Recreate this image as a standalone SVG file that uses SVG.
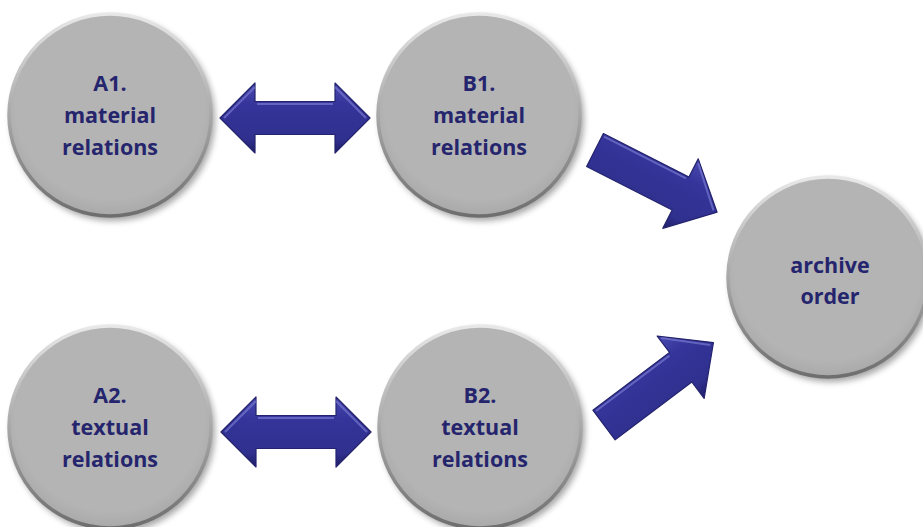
<svg xmlns="http://www.w3.org/2000/svg" width="923" height="527" viewBox="0 0 923 527">
<defs>
<filter id="sh" x="-20%" y="-20%" width="140%" height="140%"><feGaussianBlur stdDeviation="3"/></filter>
<linearGradient id="rim" x1="0" y1="0" x2="0" y2="1"><stop offset="0" stop-color="#e8e8e8"/><stop offset="0.5" stop-color="#a8a8a8"/><stop offset="1" stop-color="#6e6e6e"/></linearGradient>
<radialGradient id="face" cx="0.5" cy="0.45" r="0.55"><stop offset="0.85" stop-color="#b4b4b4"/><stop offset="1" stop-color="#a9a9a9"/></radialGradient>
<linearGradient id="arr" x1="0" y1="0" x2="0" y2="1"><stop offset="0" stop-color="#4a4ab0"/><stop offset="0.3" stop-color="#34349a"/><stop offset="0.8" stop-color="#30308f"/><stop offset="1" stop-color="#1e1e66"/></linearGradient>
<path id="dbl" d="M-75,0 L-40,-35 L-40,-16.5 L40,-16.5 L40,-35 L75,0 L40,35 L40,16.5 L-40,16.5 L-40,35 Z"/>
<path id="one" d="M0,-18.5 L96,-18.5 L96,-39 L137,0 L96,39 L96,18.5 L0,18.5 Z"/>
</defs>
<style>
.c{fill:url(#face);stroke:url(#rim);stroke-width:3.5}
.s{fill:#000;opacity:0.35;filter:url(#sh)}
.t{font-family:"Open Sans","Noto Sans",sans-serif;font-weight:bold;font-size:21.5px;fill:#25256e;text-anchor:middle}
.a{fill:url(#arr);stroke:#23236e;stroke-width:1.2;stroke-linejoin:round}
.h{fill:none;stroke:#7878d0;stroke-width:2;opacity:0.7}
</style>
<rect width="923" height="527" fill="#fff"/>
<g id="connectors">
<g transform="translate(295,118)"><use href="#dbl" class="a"/><path class="h" d="M-71,0 L-40,-31 M-38,-14 L38,-14 M40,-31 L71,0"/></g>
<g transform="translate(296,432)"><use href="#dbl" class="a"/><path class="h" d="M-71,0 L-40,-31 M-38,-14 L38,-14 M40,-31 L71,0"/></g>
<g transform="translate(595,150) rotate(27)"><use href="#one" class="a"/><path class="h" d="M2,-16 L94,-16 M98,-35 L133,0"/></g>
<g transform="translate(604,425) rotate(-37)"><use href="#one" class="a"/><path class="h" d="M2,-16 L94,-16 M98,-35 L133,0"/></g>
</g>
<g id="A1"><circle class="s" cx="113" cy="119" r="102"/><circle class="c" cx="110" cy="115" r="101"/>
<text class="t" x="110" y="91">A1.</text><text class="t" x="110" y="123">material</text><text class="t" x="110" y="155">relations</text></g>
<g id="B1"><circle class="s" cx="482" cy="119" r="102"/><circle class="c" cx="479" cy="115" r="101"/>
<text class="t" x="479" y="91">B1.</text><text class="t" x="479" y="123">material</text><text class="t" x="479" y="155">relations</text></g>
<g id="archive"><circle class="s" cx="831" cy="281" r="101"/><circle class="c" cx="828" cy="277" r="100"/>
<text class="t" x="830" y="273">archive</text><text class="t" x="830" y="304">order</text></g>
<g id="A2"><circle class="s" cx="113" cy="431" r="102"/><circle class="c" cx="110" cy="427" r="101"/>
<text class="t" x="110" y="403">A2.</text><text class="t" x="110" y="435">textual</text><text class="t" x="110" y="467">relations</text></g>
<g id="B2"><circle class="s" cx="483" cy="431" r="102"/><circle class="c" cx="480" cy="427" r="101"/>
<text class="t" x="480" y="403">B2.</text><text class="t" x="480" y="435">textual</text><text class="t" x="480" y="467">relations</text></g>
</svg>
